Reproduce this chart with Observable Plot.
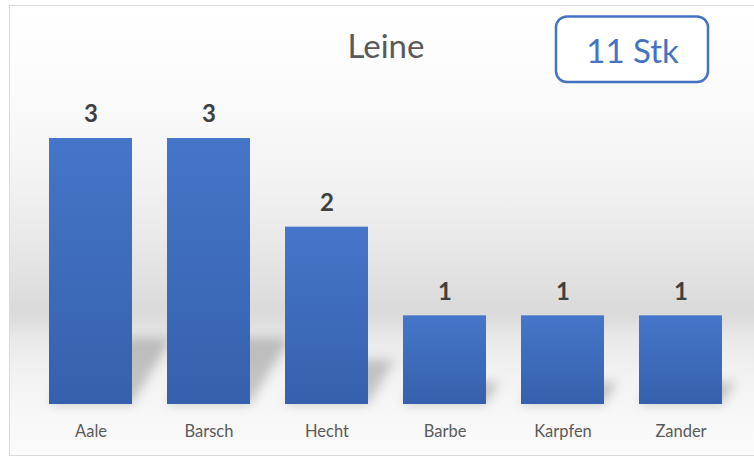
<!DOCTYPE html>
<html>
<head>
<meta charset="utf-8">
<script src="https://cdn.jsdelivr.net/npm/d3@7"></script>
<script src="https://cdn.jsdelivr.net/npm/@observablehq/plot@0.6"></script>
<style>
  html, body { margin: 0; padding: 0; background: #ffffff; }
  #wrap { position: relative; width: 754px; height: 458px; overflow: hidden; }
  #bg {
    position: absolute; left: 9px; top: 5px; width: 800px; height: 449px;
    border: 1.5px solid #dadada;
    background: linear-gradient(to bottom,
      #ffffff 0%, #fbfbfb 20%, #f3f3f3 38%, #e9e9e9 52%, #e0e0e0 62%,
      #dadada 67.5%, #dcdcdc 69.5%, #e9e9e9 74%, #f2f2f2 82%, #f8f8f8 92%, #fbfbfb 100%);
  }
  #chart { position: absolute; left: 0; top: 0; }
</style>
</head>
<body>
<div id="wrap"><div id="bg"></div><div id="chart"></div></div>
<script>
const title = "Leine";
const fish = ["Aale", "Barsch", "Hecht", "Barbe", "Karpfen", "Zander"];
const counts = [3, 3, 2, 1, 1, 1];
const unit = "Stk";

const data = fish.map((f, i) => ({fish: f, count: counts[i]}));
const FONT = "Lato, 'Open Sans', sans-serif";

function shadowRender(index, scales, values, dimensions, context) {
  const g = d3.create("svg:g").attr("filter", "url(#shadowBlur)");
  const bw = scales.x.bandwidth();
  for (const i of index) {
    const x0 = values.x[i];
    const yb = Math.max(values.y1[i], values.y2[i]);
    const yt = Math.min(values.y1[i], values.y2[i]);
    const h = (yb - yt) * 0.25;
    const dx = h * 0.6;
    g.append("path")
      .attr("d", `M${x0},${yb}L${x0 + bw},${yb}L${x0 + bw + dx},${yb - h}L${x0 + dx},${yb - h}Z`)
      .attr("fill", "#000")
      .attr("fill-opacity", 0.2);
  }
  return g.node();
}

const plot = Plot.plot({
  width: 754,
  height: 458,
  marginLeft: 31,
  marginRight: 14,
  marginTop: 138,
  marginBottom: 54,
  style: {background: "transparent", fontFamily: FONT, color: "#595959", overflow: "visible"},
  x: {domain: fish, paddingInner: 0.3, paddingOuter: 0.15, label: null},
  y: {domain: [0, 3], axis: null},
  marks: [
    Plot.barY(data, {x: "fish", y: "count", render: shadowRender}),
    Plot.barY(data, {x: "fish", y: "count", fill: "url(#barGrad)"}),
    Plot.text(data, {x: "fish", y: "count", text: d => String(d.count), dy: -24, lineAnchor: "middle",
      fontWeight: "bold", fontSize: 24, fill: "#404040"}),
    Plot.axisX({tickSize: 0, tickPadding: 21, fontSize: 16.5, fill: "#595959", label: null})
  ]
});

const svg = d3.select(plot);
const defs = svg.insert("defs", ":first-child");
const grad = defs.append("linearGradient").attr("id", "barGrad")
  .attr("x1", 0).attr("y1", 0).attr("x2", 0).attr("y2", 1);
grad.append("stop").attr("offset", "0%").attr("stop-color", "#4676c9");
grad.append("stop").attr("offset", "100%").attr("stop-color", "#3560ad");
defs.append("filter").attr("id", "shadowBlur").attr("x", "-50%").attr("y", "-50%")
  .attr("width", "200%").attr("height", "200%")
  .append("feGaussianBlur").attr("stdDeviation", 5.5);

// title
svg.append("text").attr("x", 386).attr("y", 58).attr("text-anchor", "middle")
  .attr("font-family", FONT).attr("font-size", 33).attr("fill", "#595959").text(title);

// total box
const total = d3.sum(counts);
svg.append("rect").attr("x", 556).attr("y", 16.5).attr("width", 152).attr("height", 65.5)
  .attr("rx", 11).attr("fill", "#ffffff").attr("stroke", "#4472c4").attr("stroke-width", 2.5);
svg.append("text").attr("x", 632.5).attr("y", 63).attr("text-anchor", "middle")
  .attr("font-family", FONT).attr("font-size", 33).attr("fill", "#4472c4")
  .text(`${total} ${unit}`);

document.getElementById("chart").appendChild(plot);
</script>
</body>
</html>
